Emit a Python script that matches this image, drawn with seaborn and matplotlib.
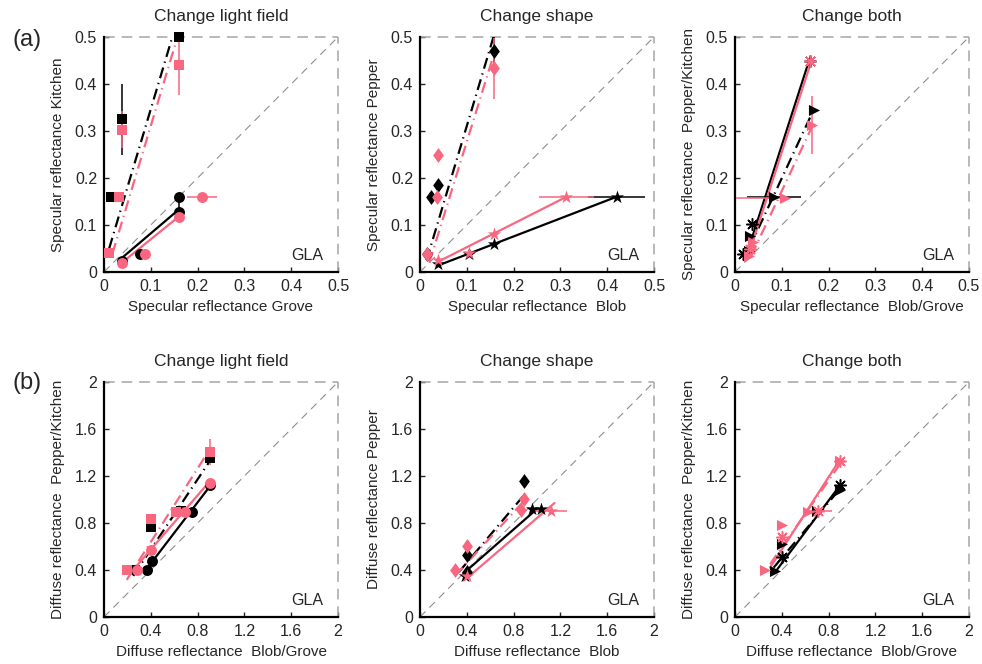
import matplotlib
matplotlib.use("Agg")
import matplotlib.pyplot as plt
from matplotlib.path import Path
import seaborn as sns

sns.set_style("white")
plt.rcParams["font.family"] = ["Liberation Sans", "DejaVu Sans"]

BLACK = "#000000"
PINK = "#F8677F"

# ---------------- (a) specular reflectance ----------------
# Change light field: squares (dash-dot fit) and circles (solid fit)
a1_sq_k_x = [0.011, 0.016, 0.038, 0.160]
a1_sq_k_y = [0.040, 0.160, 0.325, 0.500]
a1_sq_k_yerr = [0, 0, 0.075, 0]
a1_sq_p_x = [0.011, 0.033, 0.038, 0.160]
a1_sq_p_y = [0.040, 0.160, 0.303, 0.440]
a1_sq_p_yerr = [0, 0, 0.040, 0.063]
a1_ci_k_x = [0.038, 0.077, 0.160, 0.160]
a1_ci_k_y = [0.023, 0.039, 0.128, 0.160]
a1_ci_k_yerr = [0, 0, 0.020, 0]
a1_ci_p_x = [0.038, 0.087, 0.160, 0.210]
a1_ci_p_y = [0.019, 0.039, 0.117, 0.160]
a1_ci_p_xerr = [0, 0.010, 0, 0.032]
a1_sq_k_fit = ([0.011, 0.146], [0.050, 0.500])
a1_sq_p_fit = ([0.018, 0.157], [0.039, 0.500])
a1_ci_k_fit = ([0.036, 0.160], [0.028, 0.133])
a1_ci_p_fit = ([0.036, 0.160], [0.018, 0.118])

# Change shape: diamonds (dash-dot fit) and stars (solid fit)
a2_di_k_x = [0.014, 0.0235, 0.039, 0.158]
a2_di_k_y = [0.039, 0.160, 0.185, 0.470]
a2_di_k_yerr = [0, 0, 0, 0.030]
a2_di_p_x = [0.014, 0.036, 0.039, 0.158]
a2_di_p_y = [0.039, 0.160, 0.249, 0.433]
a2_di_p_yerr = [0, 0, 0, 0.065]
a2_st_k_x = [0.039, 0.104, 0.158, 0.420]
a2_st_k_y = [0.016, 0.038, 0.060, 0.160]
a2_st_k_xerr = [0, 0, 0, 0.061]
a2_st_p_x = [0.039, 0.105, 0.158, 0.313]
a2_st_p_y = [0.026, 0.040, 0.080, 0.160]
a2_st_p_xerr = [0, 0, 0, 0.059]
a2_di_k_fit = ([0.014, 0.157], [0.025, 0.500])
a2_di_p_fit = ([0.020, 0.160], [0.020, 0.470])
a2_st_k_fit = ([0.039, 0.420], [0.014, 0.160])
a2_st_p_fit = ([0.039, 0.313], [0.022, 0.160])

# Change both: triangles (dash-dot fit) and asterisks (solid fit)
a3_tr_k_x = [0.030, 0.032, 0.084, 0.168]
a3_tr_k_y = [0.045, 0.077, 0.159, 0.344]
a3_tr_k_xerr = [0, 0, 0.058, 0]
a3_tr_p_x = [0.030, 0.039, 0.107, 0.164]
a3_tr_p_y = [0.035, 0.063, 0.158, 0.313]
a3_tr_p_xerr_lo = [0, 0, 0.104, 0]
a3_tr_p_xerr_hi = [0, 0, 0.000, 0]
a3_tr_p_yerr = [0, 0, 0, 0.061]
a3_as_k_x = [0.018, 0.036, 0.160]
a3_as_k_y = [0.038, 0.102, 0.450]
a3_as_p_x = [0.032, 0.160]
a3_as_p_y = [0.050, 0.450]
a3_tr_k_fit = ([0.030, 0.168], [0.050, 0.345])
a3_tr_p_fit = ([0.035, 0.165], [0.035, 0.310])
a3_as_k_fit = ([0.021, 0.160], [0.025, 0.455])
a3_as_p_fit = ([0.025, 0.162], [0.025, 0.445])

# ---------------- (b) diffuse reflectance ----------------
b1_sq_k_x = [0.265, 0.399, 0.660, 0.906]
b1_sq_k_y = [0.400, 0.764, 0.900, 1.356]
b1_sq_p_x = [0.194, 0.399, 0.615, 0.906]
b1_sq_p_y = [0.400, 0.835, 0.895, 1.404]
b1_sq_p_yerr = [0, 0, 0, 0.110]
b1_ci_k_x = [0.365, 0.408, 0.749, 0.906]
b1_ci_k_y = [0.400, 0.480, 0.895, 1.120]
b1_ci_p_x = [0.279, 0.399, 0.690, 0.906]
b1_ci_p_y = [0.396, 0.573, 0.895, 1.140]
b1_sq_k_fit = ([0.250, 0.906], [0.350, 1.330])
b1_sq_p_fit = ([0.194, 0.906], [0.316, 1.430])
b1_ci_k_fit = ([0.370, 0.906], [0.416, 1.114])
b1_ci_p_fit = ([0.240, 0.906], [0.390, 1.157])

b2_di_k_x = [0.399, 0.399, 0.892]
b2_di_k_y = [0.387, 0.530, 1.157]
b2_di_p_x = [0.299, 0.399, 0.860, 0.889]
b2_di_p_y = [0.400, 0.607, 0.914, 1.006]
b2_st_k_x = [0.385, 0.955, 1.030]
b2_st_k_y = [0.350, 0.920, 0.915]
b2_st_p_x = [0.399, 1.117]
b2_st_p_y = [0.345, 0.900]
b2_st_p_xerr = [0, 0.140]
b2_di_k_fit = ([0.330, 0.900], [0.380, 1.050])
b2_di_p_fit = ([0.300, 0.900], [0.350, 1.000])
b2_st_k_fit = ([0.370, 1.000], [0.370, 0.920])
b2_st_p_fit = ([0.400, 1.150], [0.330, 0.970])

b3_tr_k_x = [0.342, 0.399, 0.698, 0.897]
b3_tr_k_y = [0.393, 0.621, 0.906, 1.077]
b3_tr_p_x = [0.256, 0.399, 0.627, 0.897]
b3_tr_p_y = [0.400, 0.784, 0.897, 1.325]
b3_as_k_x = [0.399, 0.897]
b3_as_k_y = [0.507, 1.126]
b3_as_p_x = [0.399, 0.710, 0.897]
b3_as_p_y = [0.684, 0.900, 1.330]
b3_as_p_xerr = [0, 0.120, 0]
b3_tr_k_fit = ([0.330, 0.897], [0.420, 1.090])
b3_tr_p_fit = ([0.300, 0.897], [0.450, 1.300])
b3_as_k_fit = ([0.342, 0.897], [0.380, 1.120])
b3_as_p_fit = ([0.300, 0.897], [0.420, 1.340])

spec_ticks = [0, 0.1, 0.2, 0.3, 0.4, 0.5]
spec_ticklabels = ["0", "0.1", "0.2", "0.3", "0.4", "0.5"]
diff_ticks = [0, 0.4, 0.8, 1.2, 1.6, 2]
diff_ticklabels = ["0", "0.4", "0.8", "1.2", "1.6", "2"]

titles = ["Change light field", "Change shape", "Change both"]
a_xlabels = ["Specular reflectance Grove", "Specular reflectance  Blob",
             "Specular reflectance  Blob/Grove"]
a_ylabels = ["Specular reflectance Kitchen", "Specular reflectance Pepper",
             "Specular reflectance  Pepper/Kitchen"]
b_xlabels = ["Diffuse reflectance  Blob/Grove", "Diffuse reflectance  Blob",
             "Diffuse reflectance  Blob/Grove"]
b_ylabels = ["Diffuse reflectance  Pepper/Kitchen", "Diffuse reflectance Pepper",
             "Diffuse reflectance  Pepper/Kitchen"]

# ---------------- marker shapes ----------------
DIAMOND = Path([(0, 1), (0.72, 0), (0, -1), (-0.72, 0), (0, 1)],
               [Path.MOVETO, Path.LINETO, Path.LINETO, Path.LINETO, Path.CLOSEPOLY])
ASTERISK = (8, 2, 0)
DASHDOT = (0, (5, 2.2, 0.6, 2.2))

MARKERS = {
    "sq": dict(marker="s", s=44),
    "ci": dict(marker="o", s=62),
    "di": dict(marker=DIAMOND, s=115),
    "st": dict(marker="*", s=100),
    "tr": dict(marker=">", s=64),
    "as": dict(marker=ASTERISK, s=70),
}


def series(kind, color, x, y, fit, dashed, xerr=None, yerr=None):
    return dict(kind=kind, color=color, x=x, y=y, fit=fit, dashed=dashed,
                xerr=xerr, yerr=yerr)


def style_axes(ax, lim, ticks, ticklabels, title, xlabel, ylabel):
    ax.set_xlim(0, lim)
    ax.set_ylim(0, lim)
    ax.set_xticks(ticks)
    ax.set_yticks(ticks)
    ax.set_xticklabels(ticklabels, fontsize=11.5)
    ax.set_yticklabels(ticklabels, fontsize=11.5)
    ax.tick_params(direction="in", length=3.5, width=1.0, pad=5,
                   bottom=True, left=True, top=False, right=False)
    for side in ("top", "right"):
        ax.spines[side].set_visible(False)
    for side in ("left", "bottom"):
        ax.spines[side].set_color(BLACK)
        ax.spines[side].set_linewidth(1.6)
    # dashed box edges and identity diagonal
    ax.plot([0, lim], [lim, lim], color="#a6a6a6", lw=1.1,
            linestyle=(0, (7, 4.5)), clip_on=False, zorder=1)
    ax.plot([lim, lim], [0, lim], color="#a6a6a6", lw=1.1,
            linestyle=(0, (7, 4.5)), clip_on=False, zorder=1)
    ax.plot([0, lim], [0, lim], color="#8e8e8e", lw=0.8,
            linestyle=(0, (7, 5)), zorder=1)
    ax.set_xlabel(xlabel, fontsize=11)
    ax.set_ylabel(ylabel, fontsize=11)
    ax.xaxis.set_label_coords(0.5, -0.118)
    ax.yaxis.set_label_coords(-0.166, 0.5)
    ax.text(0.5, 1.088, title, transform=ax.transAxes, ha="center",
            va="center", fontsize=12.5)
    ax.text(0.87, 0.07, "GLA", transform=ax.transAxes, ha="center",
            va="center", fontsize=11.5)


def err_at(err, i):
    """Return the error for point i, either symmetric or as [lo, hi]."""
    if err is None:
        return None
    if isinstance(err, tuple):
        lo, hi = err[0][i], err[1][i]
        return [[lo], [hi]] if (lo or hi) else None
    return err[i] if err[i] else None


def draw_series(ax, sr, order):
    fx, fy = sr["fit"]
    sns.lineplot(x=fx, y=fy, ax=ax, color=sr["color"], lw=1.6, sort=False,
                 linestyle=DASHDOT if sr["dashed"] else "-",
                 zorder=2 + order * 0.1, legend=False)
    for i, (xi, yi) in enumerate(zip(sr["x"], sr["y"])):
        ex = err_at(sr["xerr"], i)
        ey = err_at(sr["yerr"], i)
        if ex is not None or ey is not None:
            ax.errorbar(xi, yi, xerr=ex, yerr=ey, fmt="none",
                        ecolor=sr["color"], elinewidth=1.1, capsize=0,
                        zorder=3 + order * 0.1, clip_on=False)
    m = MARKERS[sr["kind"]]
    kw = dict(marker=m["marker"], s=m["s"], clip_on=False, legend=False,
              zorder=5 + order * 0.1, color=sr["color"], edgecolor=sr["color"])
    kw["linewidth"] = 1.1 if sr["kind"] == "as" else 0
    sns.scatterplot(x=sr["x"], y=sr["y"], ax=ax, **kw)


fig = plt.figure(figsize=(9.82, 6.64), dpi=100)
lefts = [104 / 982, 420 / 982, 735 / 982]
w = 234 / 982
h = 235 / 664
bottoms = [(664 - 272) / 664, (664 - 617) / 664]

panels_a = [
    [series("sq", BLACK, a1_sq_k_x, a1_sq_k_y, a1_sq_k_fit, True, yerr=a1_sq_k_yerr),
     series("ci", BLACK, a1_ci_k_x, a1_ci_k_y, a1_ci_k_fit, False, yerr=a1_ci_k_yerr),
     series("sq", PINK, a1_sq_p_x, a1_sq_p_y, a1_sq_p_fit, True, yerr=a1_sq_p_yerr),
     series("ci", PINK, a1_ci_p_x, a1_ci_p_y, a1_ci_p_fit, False, xerr=a1_ci_p_xerr)],
    [series("di", BLACK, a2_di_k_x, a2_di_k_y, a2_di_k_fit, True, yerr=a2_di_k_yerr),
     series("st", BLACK, a2_st_k_x, a2_st_k_y, a2_st_k_fit, False, xerr=a2_st_k_xerr),
     series("di", PINK, a2_di_p_x, a2_di_p_y, a2_di_p_fit, True, yerr=a2_di_p_yerr),
     series("st", PINK, a2_st_p_x, a2_st_p_y, a2_st_p_fit, False, xerr=a2_st_p_xerr)],
    [series("tr", BLACK, a3_tr_k_x, a3_tr_k_y, a3_tr_k_fit, True, xerr=a3_tr_k_xerr),
     series("as", BLACK, a3_as_k_x, a3_as_k_y, a3_as_k_fit, False),
     series("tr", PINK, a3_tr_p_x, a3_tr_p_y, a3_tr_p_fit, True,
            xerr=(a3_tr_p_xerr_lo, a3_tr_p_xerr_hi), yerr=a3_tr_p_yerr),
     series("as", PINK, a3_as_p_x, a3_as_p_y, a3_as_p_fit, False)],
]
panels_b = [
    [series("sq", BLACK, b1_sq_k_x, b1_sq_k_y, b1_sq_k_fit, True),
     series("ci", BLACK, b1_ci_k_x, b1_ci_k_y, b1_ci_k_fit, False),
     series("sq", PINK, b1_sq_p_x, b1_sq_p_y, b1_sq_p_fit, True, yerr=b1_sq_p_yerr),
     series("ci", PINK, b1_ci_p_x, b1_ci_p_y, b1_ci_p_fit, False)],
    [series("di", BLACK, b2_di_k_x, b2_di_k_y, b2_di_k_fit, True),
     series("st", BLACK, b2_st_k_x, b2_st_k_y, b2_st_k_fit, False),
     series("di", PINK, b2_di_p_x, b2_di_p_y, b2_di_p_fit, True),
     series("st", PINK, b2_st_p_x, b2_st_p_y, b2_st_p_fit, False, xerr=b2_st_p_xerr)],
    [series("tr", BLACK, b3_tr_k_x, b3_tr_k_y, b3_tr_k_fit, True),
     series("as", BLACK, b3_as_k_x, b3_as_k_y, b3_as_k_fit, False),
     series("tr", PINK, b3_tr_p_x, b3_tr_p_y, b3_tr_p_fit, True),
     series("as", PINK, b3_as_p_x, b3_as_p_y, b3_as_p_fit, False, xerr=b3_as_p_xerr)],
]

for row, (panels, lim, ticks, tl, xls, yls) in enumerate([
        (panels_a, 0.5, spec_ticks, spec_ticklabels, a_xlabels, a_ylabels),
        (panels_b, 2.0, diff_ticks, diff_ticklabels, b_xlabels, b_ylabels)]):
    for col in range(3):
        ax = fig.add_axes([lefts[col], bottoms[row], w, h])
        ax.set_facecolor("white")
        style_axes(ax, lim, ticks, tl, titles[col], xls[col], yls[col])
        for i, sr in enumerate(panels[col]):
            draw_series(ax, sr, i)

fig.text(27 / 982, 1 - 40 / 664, "(a)", fontsize=17, ha="center", va="center")
fig.text(27 / 982, 1 - 383 / 664, "(b)", fontsize=17, ha="center", va="center")

fig.savefig("out.png", dpi=100, facecolor="white")
